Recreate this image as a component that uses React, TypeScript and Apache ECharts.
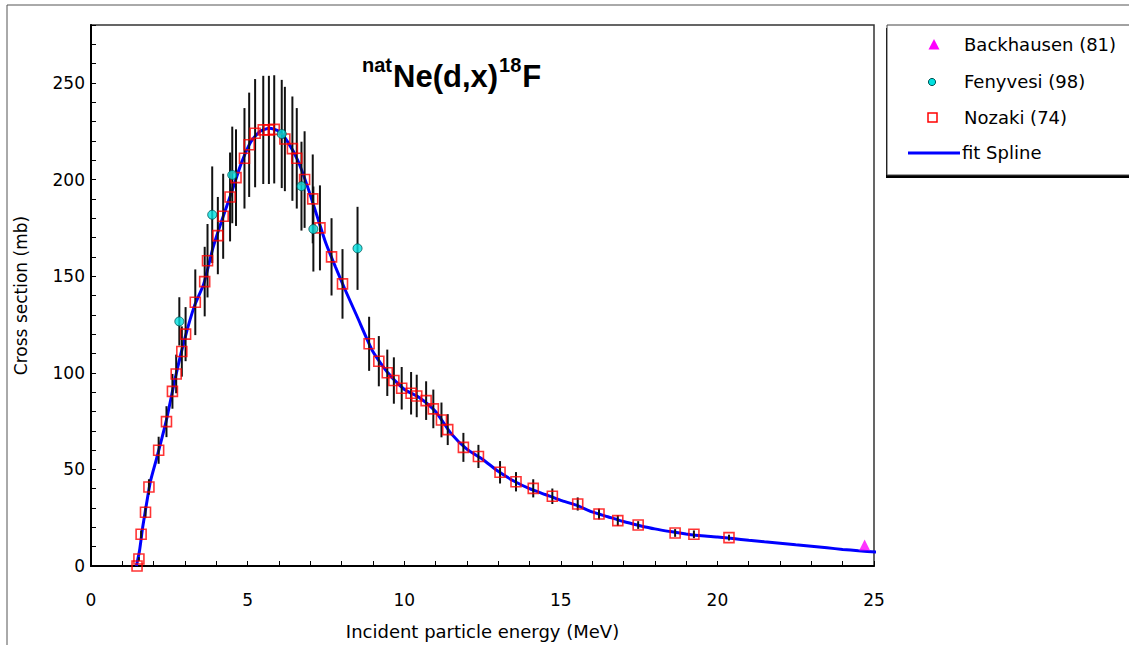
import React, { useEffect, useRef } from "react";
import * as echarts from "echarts";

// ---- data ----
const backhausenE = [24.7];
const backhausenS = [10.9];

const fenyvesiE = [2.82, 3.87, 4.51, 6.09, 6.72, 7.1, 8.51];
const fenyvesiS = [126.6, 181.8, 202.4, 223.6, 196.6, 174.4, 164.4];
const fenyvesiErr = [12.5, 25, 25, 28, 23, 22, 21.5];

const nozakiE = [
  1.47, 1.53, 1.6, 1.74, 1.85, 2.16, 2.41, 2.6, 2.72, 2.9, 3.02, 3.33, 3.63, 3.72,
  4.05, 4.22, 4.44, 4.63, 4.9, 5.05, 5.24, 5.5, 5.68, 5.85, 6.19, 6.43, 6.57, 6.82,
  7.08, 7.31, 7.68, 8.03, 8.88, 9.19, 9.46, 9.67, 9.92, 10.22, 10.4, 10.7, 10.93,
  11.19, 11.39, 11.89, 12.37, 13.06, 13.57, 14.12, 14.73, 15.54, 16.22, 16.82,
  17.47, 18.65, 19.25, 20.37,
];
const nozakiS = [
  0, 3.6, 16.4, 27.8, 40.9, 59.9, 74.7, 90.4, 99.4, 111, 120, 136.5, 147.2, 158,
  171, 181, 191, 201, 211, 218, 224, 225.7, 225.7, 226, 221, 216, 211, 200,
  190, 175, 160, 146, 115, 106, 100, 96, 92, 89.4, 88, 85.6, 81.3,
  75.6, 70.6, 61.4, 56.7, 48.5, 43.6, 40.2, 36.1, 32.1, 26.9, 23.5,
  21.2, 17.1, 16.4, 14.7,
];
const nozakiErr = [
  0, 1, 2, 3, 4, 7, 8, 9, 10, 13, 14, 17, 18, 19,
  20, 22, 23, 25, 26, 27, 28, 28, 28, 28, 27, 27, 26, 25,
  23, 22, 20, 18, 14, 13, 12, 12, 11, 11, 11, 10, 10,
  9, 8, 7.5, 6, 5.8, 5, 4.7, 4, 3.4, 2.8, 2.8,
  2, 2, 2, 1.5,
];

const fitE = [
  1.45, 1.55, 1.65, 1.75, 1.9, 2.1, 2.4, 2.7, 3.0, 3.3, 3.6, 3.9, 4.2, 4.5, 4.8,
  5.1, 5.4, 5.7, 6.0, 6.3, 6.6, 6.9, 7.2, 7.5, 7.8, 8.1, 8.5, 9.0, 9.5, 10.0,
  10.5, 11.0, 11.5, 12.0, 12.5, 13.0, 13.5, 14.0, 14.5, 15.0, 15.5, 16.0, 16.5,
  17.0, 17.5, 18.0, 18.5, 19.0, 19.5, 20.0, 20.5, 21.0, 21.5, 22.0, 22.5, 23.0,
  23.5, 24.0, 24.5, 25.1,
];
const fitS = [
  0, 8, 20, 30, 44, 56, 75, 98, 118, 134.5, 146, 165, 180, 194, 208.5,
  219.5, 225, 226.5, 225, 219, 210, 197, 182, 167, 155, 143.5, 129, 111, 99.6, 91.5,
  87, 80, 68.5, 60.5, 55.3, 49, 44, 40, 37, 34, 31.5, 28, 25.5,
  23, 21, 19.2, 17.8, 16.6, 15.6, 15.0, 14.2, 13.3, 12.5, 11.8, 11.0, 10.2,
  9.4, 8.6, 7.9, 7.2,
];

const legendNames = ["Backhausen (81)", "Fenyvesi (98)", "Nozaki (74)", "fit Spline"];
const xLabelStep = 5;
const yLabelStep = 50;

const TEXT_FONT = "DejaVu Sans";
const TITLE_FONT = "Liberation Sans";

function measure(text: string, font: string): number {
  const c = document.createElement("canvas").getContext("2d");
  if (!c) return text.length * 10;
  c.font = font;
  return c.measureText(text).width;
}

export default function App() {
  const ref = useRef<HTMLDivElement>(null);

  useEffect(() => {
    if (!ref.current) return;
    const chart = echarts.init(ref.current, null, { renderer: "svg" });

    const errData: number[][] = [];
    nozakiE.forEach((e, i) => {
      if (nozakiErr[i] > 0) errData.push([e, nozakiS[i] - nozakiErr[i], nozakiS[i] + nozakiErr[i]]);
    });
    fenyvesiE.forEach((e, i) => {
      errData.push([e, fenyvesiS[i] - fenyvesiErr[i], fenyvesiS[i] + fenyvesiErr[i]]);
    });

    // title pieces
    const supSize = 20;
    const mainSize = 31;
    const supFont = `bold ${supSize}px "${TITLE_FONT}"`;
    const mainFont = `bold ${mainSize}px "${TITLE_FONT}"`;
    const tx0 = 362;
    const w1 = measure("nat", supFont);
    const w2 = measure("Ne(d,x)", mainFont);
    const w3 = measure("18", supFont);
    const x2 = tx0 + w1 + 1;
    const x3 = x2 + w2 + 1;
    const x4 = x3 + w3 + 1;
    const supY = 65;
    const mainY = 76.3;

    const titleText = (text: string, x: number, y: number, size: number) => ({
      type: "text",
      style: {
        text,
        x,
        y,
        fontSize: size,
        fontWeight: "bold",
        fontFamily: TITLE_FONT,
        fill: "#000",
        textAlign: "left",
        textVerticalAlign: "middle",
      },
      z: 10,
    });

    const legendText = (text: string, x: number, y: number) => ({
      type: "text",
      style: {
        text,
        x,
        y,
        fontSize: 18,
        fontFamily: TEXT_FONT,
        fill: "#000",
        textAlign: "left",
        textVerticalAlign: "middle",
      },
      z: 12,
    });

    chart.setOption({
      animation: false,
      backgroundColor: "#fff",
      grid: {
        left: 91,
        right: 255,
        top: 25,
        bottom: 78,
        show: true,
        borderColor: "#333",
        borderWidth: 1.5,
      },
      xAxis: {
        type: "value",
        min: 0,
        max: 25,
        interval: 1,
        name: "Incident particle energy (MeV)",
        nameLocation: "middle",
        nameGap: 56,
        nameTextStyle: { fontFamily: TEXT_FONT, fontSize: 18, color: "#000" },
        axisLine: { show: true, onZero: false, lineStyle: { color: "#000", width: 2 } },
        axisTick: { show: true, inside: true, length: 5, lineStyle: { color: "#000", width: 1 } },
        axisLabel: {
          margin: 25,
          fontFamily: TEXT_FONT,
          fontSize: 17,
          color: "#000",
          formatter: (v: number) => (Math.round(v) % xLabelStep === 0 ? String(Math.round(v)) : ""),
        },
        splitLine: { show: false },
      },
      yAxis: {
        type: "value",
        min: 0,
        max: 280,
        interval: 10,
        name: "Cross section (mb)",
        nameLocation: "middle",
        nameGap: 62,
        nameTextStyle: { fontFamily: TEXT_FONT, fontSize: 17, color: "#000" },
        axisLine: { show: true, onZero: false, lineStyle: { color: "#000", width: 2 } },
        axisTick: { show: true, inside: true, length: 5, lineStyle: { color: "#000", width: 1 } },
        axisLabel: {
          margin: 6,
          fontFamily: TEXT_FONT,
          fontSize: 17,
          color: "#000",
          formatter: (v: number) => (Math.round(v) % yLabelStep === 0 ? String(Math.round(v)) : ""),
        },
        splitLine: { show: false },
      },
      series: [
        {
          name: legendNames[3],
          type: "line",
          data: fitE.map((e, i) => [e, fitS[i]]),
          showSymbol: false,
          smooth: 0.2,
          lineStyle: { color: "#0000ff", width: 3 },
          z: 2,
        },
        {
          name: "errors",
          type: "custom",
          data: errData,
          encode: { x: 0, y: [1, 2] },
          renderItem: (params: any, api: any) => {
            const x = api.value(0);
            const lo = api.coord([x, api.value(1)]);
            const hi = api.coord([x, api.value(2)]);
            return {
              type: "line",
              shape: { x1: lo[0], y1: lo[1], x2: hi[0], y2: hi[1] },
              style: { stroke: "#111", lineWidth: 2 },
            };
          },
          z: 3,
        },
        {
          name: legendNames[2],
          type: "scatter",
          data: nozakiE.map((e, i) => [e, nozakiS[i]]),
          symbol: "rect",
          symbolSize: 10,
          itemStyle: { color: "rgba(255,255,255,0)", borderColor: "#ff0000", borderWidth: 1.6 },
          z: 4,
        },
        {
          name: legendNames[1],
          type: "scatter",
          data: fenyvesiE.map((e, i) => [e, fenyvesiS[i]]),
          symbol: "circle",
          symbolSize: 9,
          itemStyle: { color: "#00e0e0", borderColor: "#005555", borderWidth: 1 },
          z: 5,
        },
        {
          name: legendNames[0],
          type: "scatter",
          data: backhausenE.map((e, i) => [e, backhausenS[i]]),
          symbol: "triangle",
          symbolSize: 11,
          itemStyle: { color: "#ff00ff" },
          z: 5,
        },
      ],
      graphic: [
        // outer frame
        {
          type: "rect",
          shape: { x: 7, y: 5, width: 1200, height: 700 },
          style: { fill: "none", stroke: "#555", lineWidth: 1 },
          z: 1,
          silent: true,
        },
        // legend shadow & box
        {
          type: "rect",
          shape: { x: 886, y: 28, width: 260, height: 150 },
          style: { fill: "#000" },
          z: 11,
        },
        {
          type: "rect",
          shape: { x: 887, y: 25, width: 260, height: 150 },
          style: { fill: "#fff", stroke: "#444", lineWidth: 1 },
          z: 11,
        },
        {
          type: "polygon",
          shape: { points: [[934, 39], [928.5, 49.5], [939.5, 49.5]] },
          style: { fill: "#ff00ff" },
          z: 12,
        },
        {
          type: "circle",
          shape: { cx: 932, cy: 82, r: 3.6 },
          style: { fill: "#00e0e0", stroke: "#005555", lineWidth: 1 },
          z: 12,
        },
        {
          type: "rect",
          shape: { x: 928, y: 113, width: 9, height: 9 },
          style: { fill: "#fff", stroke: "#ff0000", lineWidth: 1.5 },
          z: 12,
        },
        {
          type: "line",
          shape: { x1: 908, y1: 153, x2: 960, y2: 153 },
          style: { stroke: "#0000ff", lineWidth: 3 },
          z: 12,
        },
        legendText(legendNames[0], 964, 44),
        legendText(legendNames[1], 964, 81.5),
        legendText(legendNames[2], 964, 117.5),
        legendText(legendNames[3], 962, 152.5),
        // title
        titleText("nat", tx0, supY, supSize),
        titleText("Ne(d,x)", x2, mainY, mainSize),
        titleText("18", x3, supY, supSize),
        titleText("F", x4, mainY, mainSize),
      ],
    });

    return () => chart.dispose();
  }, []);

  return (
    <div
      ref={ref}
      style={{ position: "absolute", left: 0, top: 0, width: 1129, height: 645 }}
    />
  );
}
